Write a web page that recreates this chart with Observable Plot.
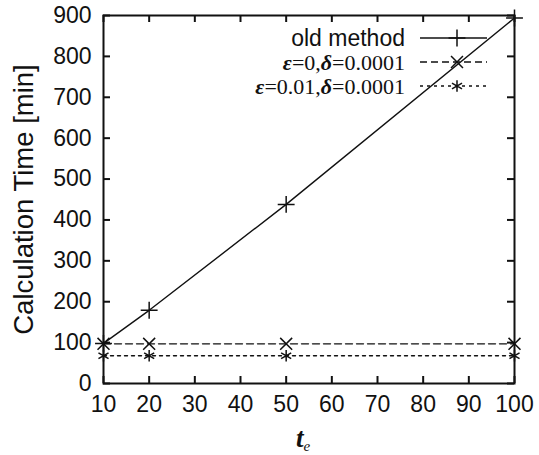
<!DOCTYPE html>
<html>
<head>
<meta charset="utf-8">
<script src="https://cdn.jsdelivr.net/npm/d3@7"></script>
<script src="https://cdn.jsdelivr.net/npm/@observablehq/plot@0.6"></script>
<style>
  body { margin: 0; background: #fff; }
  #wrap { position: relative; width: 539px; height: 455px; font-family: "Liberation Sans", Arial, sans-serif; }
  #legend { position: absolute; left: 0; top: 0; width: 539px; height: 455px; pointer-events: none; }
  #xlabel { position: absolute; left: 296px; top: 425px; font-family: "Liberation Serif", serif; font-style: italic; font-weight: bold; font-size: 27px; color: #111; line-height: 1; }
  #xlabel sub { font-size: 15px; font-weight: normal; vertical-align: -4px; }
</style>
</head>
<body>
<div id="wrap"></div>
<script>
const te = [10, 20, 50, 100];
const oldMethod = [98, 179, 438, 894];
const eps0 = [97, 97, 97, 97];
const eps001 = [68, 68, 68, 68];
const seriesNames = ["old method", "ε=0,δ=0.0001", "ε=0.01,δ=0.0001"];
const xTicks = [10, 20, 30, 40, 50, 60, 70, 80, 90, 100];
const yTicks = [0, 100, 200, 300, 400, 500, 600, 700, 800, 900];

const symbols = ["plus", "times", "asterisk"];
const dashes = [null, "7,4", "3,4"];
const valuesList = [oldMethod, eps0, eps001];

const data = [];
seriesNames.forEach((s, i) => te.forEach((x, j) => data.push({series: s, idx: i, te: x, value: valuesList[i][j]})));

const marks = [];
seriesNames.forEach((s, i) => {
  const d = data.filter(r => r.idx === i);
  marks.push(Plot.line(d, {x: "te", y: "value", stroke: "#111", strokeWidth: 1.4, strokeDasharray: dashes[i]}));
  marks.push(Plot.dot(d, {x: "te", y: "value", symbol: () => symbols[i], stroke: "#111", strokeWidth: 1.5, r: 5.5}));
});

const W = 539, H = 455, mL = 103, mR = 25, mT = 15, mB = 72;
const fw = W - mL - mR, fh = H - mT - mB;
const tk = 7;
const tickOpts = {stroke: "#111", strokeWidth: 2};

const chart = Plot.plot({
  width: W,
  height: H,
  marginLeft: mL,
  marginRight: mR,
  marginTop: mT,
  marginBottom: mB,
  style: {fontFamily: "Liberation Sans, Arial, sans-serif", color: "#111", background: "#fff"},
  x: {domain: [10, 100]},
  y: {domain: [0, 900]},
  marks: [
    Plot.frame({stroke: "#111", fill: "none", strokeWidth: 2}),
    Plot.axisY(yTicks, {anchor: "left", tickSize: 0, tickPadding: 12, fontSize: 23, label: "Calculation Time [min]", labelAnchor: "center", labelArrow: "none", labelOffset: 90}),
    Plot.axisX(xTicks, {anchor: "bottom", tickSize: 0, tickPadding: 12, fontSize: 23, label: null}),
    // inward ticks on all four sides (gnuplot style)
    Plot.tickY(yTicks, {y: d => d, insetRight: fw - tk, ...tickOpts}),
    Plot.tickY(yTicks, {y: d => d, insetLeft: fw - tk, ...tickOpts}),
    Plot.tickX(xTicks, {x: d => d, insetTop: fh - tk, ...tickOpts}),
    Plot.tickX(xTicks, {x: d => d, insetBottom: fh - tk, ...tickOpts}),
    ...marks
  ]
});
chart.querySelectorAll("[aria-label='y-axis label'] text").forEach(t => t.setAttribute("font-size", 27.5));
document.getElementById("wrap").appendChild(chart);

// legend overlay
const svgNS = "http://www.w3.org/2000/svg";
const leg = document.createElementNS(svgNS, "svg");
leg.setAttribute("id", "legend");
leg.setAttribute("width", 539);
leg.setAttribute("height", 455);
const rowsY = [38, 62, 86];
const symGen = {plus: d3.symbolPlus, times: d3.symbolTimes, asterisk: d3.symbolAsterisk};
seriesNames.forEach((s, i) => {
  const y = rowsY[i];
  const t = document.createElementNS(svgNS, "text");
  t.setAttribute("x", 405);
  t.setAttribute("y", y);
  t.setAttribute("text-anchor", "end");
  t.setAttribute("dominant-baseline", "central");
  t.setAttribute("fill", "#111");
  if (i === 0) {
    t.setAttribute("font-family", "Liberation Sans, Arial, sans-serif");
    t.setAttribute("font-size", 23);
    t.textContent = s;
  } else {
    t.setAttribute("font-family", "Liberation Serif, Times New Roman, serif");
    t.setAttribute("font-size", 22);
    s.split(/([εδ])/).forEach(part => {
      if (!part) return;
      const ts = document.createElementNS(svgNS, "tspan");
      if (part === "ε" || part === "δ") { ts.setAttribute("font-style", "italic"); ts.setAttribute("font-weight", "bold"); }
      ts.textContent = part;
      t.appendChild(ts);
    });
  }
  leg.appendChild(t);
  const ln = document.createElementNS(svgNS, "line");
  ln.setAttribute("x1", 420); ln.setAttribute("x2", 487);
  ln.setAttribute("y1", y); ln.setAttribute("y2", y);
  ln.setAttribute("stroke", "#111"); ln.setAttribute("stroke-width", 1.4);
  if (dashes[i]) ln.setAttribute("stroke-dasharray", dashes[i]);
  leg.appendChild(ln);
  const p = document.createElementNS(svgNS, "path");
  p.setAttribute("d", d3.symbol(symGen[symbols[i]], Math.PI * 5.5 * 5.5)());
  p.setAttribute("transform", `translate(457,${y})`);
  p.setAttribute("fill", "none"); p.setAttribute("stroke", "#111"); p.setAttribute("stroke-width", 1.5);
  leg.appendChild(p);
});
document.getElementById("wrap").appendChild(leg);

const xl = document.createElement("div");
xl.id = "xlabel";
xl.innerHTML = "t<sub>e</sub>";
document.getElementById("wrap").appendChild(xl);
</script>
</body>
</html>
